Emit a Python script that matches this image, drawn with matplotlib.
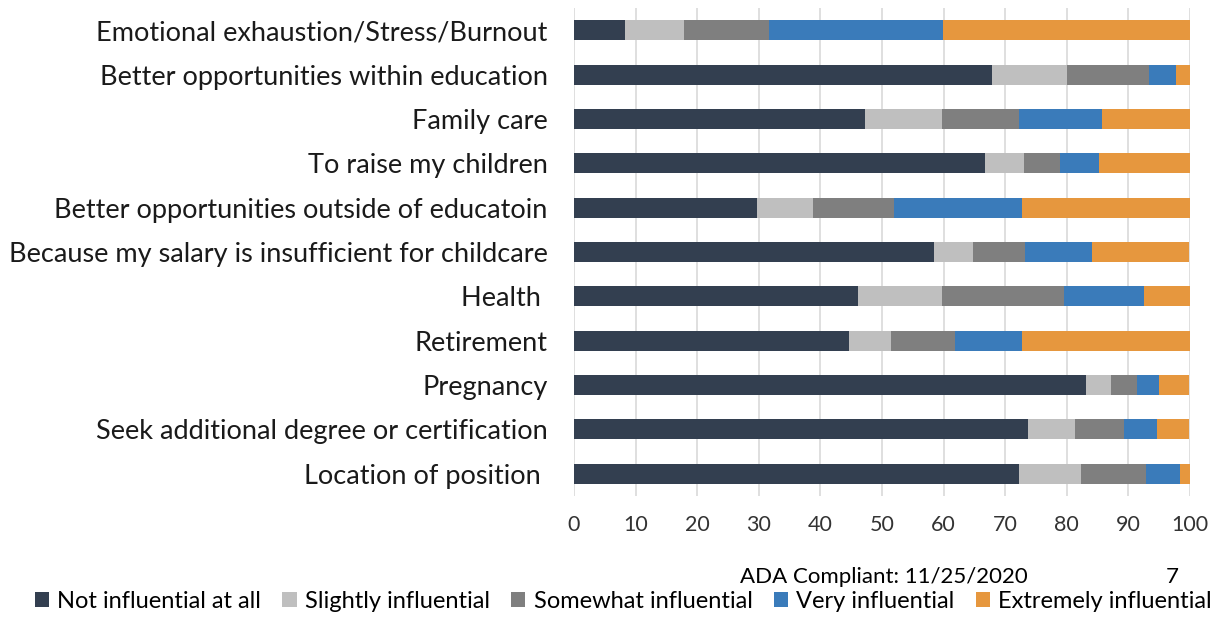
import matplotlib
matplotlib.use("Agg")
import matplotlib.pyplot as plt
import numpy as np

categories = [
    "Emotional exhaustion/Stress/Burnout",
    "Better opportunities within education",
    "Family care",
    "To raise my children",
    "Better opportunities outside of educatoin",
    "Because my salary is insufficient for childcare",
    "Health ",
    "Retirement",
    "Pregnancy",
    "Seek additional degree or certification",
    "Location of position ",
]
series_names = ["Not influential at all", "Slightly influential", "Somewhat influential",
                "Very influential", "Extremely influential"]
not_infl = [8.2, 67.9, 47.2, 66.7, 29.7, 58.5, 46.1, 44.6, 83.1, 73.7, 72.3]
slightly = [9.7, 12.2, 12.6, 6.4, 9.1, 6.3, 13.7, 6.9, 4.1, 7.7, 10.0]
somewhat = [13.8, 13.3, 12.5, 5.8, 13.1, 8.4, 19.7, 10.4, 4.2, 7.9, 10.5]
very = [28.2, 4.4, 13.4, 6.3, 20.9, 10.9, 13.1, 10.8, 3.5, 5.4, 5.5]
extremely = [40.1, 2.2, 14.3, 14.8, 27.2, 15.8, 7.4, 27.3, 5.0, 5.2, 1.7]
xticks = list(range(0, 101, 10))

colors = ["#333F50", "#BFBFBF", "#7F7F7F", "#3A7BBA", "#E6973E"]

fig = plt.figure(figsize=(12.27, 6.17), dpi=100)
ax = fig.add_axes([574/1227, 1-496/617, (1190-574)/1227, (496-8)/617])

y = np.arange(len(categories))
left = np.zeros(len(categories))
for name, vals, c in zip(series_names, [not_infl, slightly, somewhat, very, extremely], colors):
    ax.barh(y, vals, left=left, height=0.45, color=c, label=name, zorder=3)
    left += np.array(vals)

ax.set_ylim(len(categories)-0.5, -0.5)
ax.set_xlim(0, 100)
ax.set_xticks(xticks)
ax.set_yticks(y)
ax.set_yticklabels(categories)
for s in ax.spines.values():
    s.set_visible(False)
ax.grid(axis="x", color="#D9D9D9", linewidth=1.2, zorder=0)
ax.tick_params(axis="both", length=0)
ax.tick_params(axis="y", pad=19)
ax.tick_params(axis="x", pad=14)
for lab in ax.get_yticklabels():
    lab.set_fontfamily(["Lato", "DejaVu Sans"])
    lab.set_fontsize(19.5)
    lab.set_color("#1a1a1a")
for lab in ax.get_xticklabels():
    lab.set_fontfamily(["Lato", "DejaVu Sans"])
    lab.set_fontsize(15.5)
    lab.set_color("#333333")

font = ["Lato", "DejaVu Sans"]
leg = fig.legend(loc="lower center", bbox_to_anchor=(0.508, 0.004), ncol=5, frameon=False,
                 prop={"family": font, "size": 17}, handlelength=0.6, handleheight=0.6,
                 handletextpad=0.35, columnspacing=0.9, borderaxespad=0.0, borderpad=0.1)
fig.text(740/1227, 1-577/617, "ADA Compliant: 11/25/2020", family=font, fontsize=16,
         va="center", ha="left", color="black")
fig.text(1172/1227, 1-577/617, "7", family=font, fontsize=16, va="center", ha="center", color="black")

fig.savefig("out.png", dpi=100)
